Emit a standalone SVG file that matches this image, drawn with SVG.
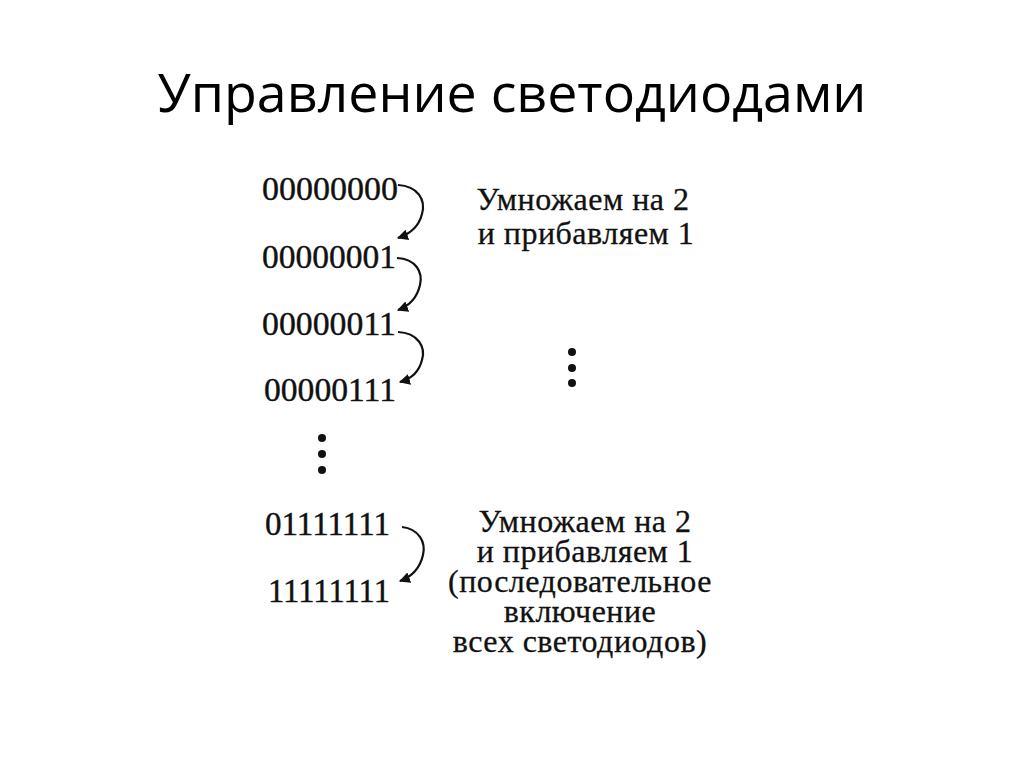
<svg xmlns="http://www.w3.org/2000/svg" width="1024" height="767" viewBox="0 0 1024 767">
<style>
.title{font-family:"Open Sans","Liberation Sans",sans-serif;font-size:53px;fill:#000}
.bin{font-family:"Liberation Serif",serif;font-size:34px;fill:#111;stroke:#111;stroke-width:0.4}
.lbl{font-family:"Liberation Serif",serif;font-size:32px;fill:#111;stroke:#111;stroke-width:0.3;text-anchor:middle;letter-spacing:0.5px}
.arr{fill:none;stroke:#111;stroke-width:2.2}
.dot{fill:#111}
</style>
<defs>
<marker id="ah" viewBox="0 0 10 10" refX="9" refY="5" markerWidth="5" markerHeight="5" orient="auto">
<path d="M0,0 L10,5 L0,10 z" fill="#111"/>
</marker>
</defs>
<rect width="1024" height="767" fill="#fff"/>
<text class="title" x="512" y="112" text-anchor="middle" textLength="709" lengthAdjust="spacingAndGlyphs">Управление светодиодами</text>

<g id="n0"><text class="bin" x="262" y="200" textLength="136" lengthAdjust="spacingAndGlyphs">00000000</text></g>
<g id="n1"><text class="bin" x="262" y="268" textLength="134" lengthAdjust="spacingAndGlyphs">00000001</text></g>
<g id="n2"><text class="bin" x="262" y="335" textLength="134" lengthAdjust="spacingAndGlyphs">00000011</text></g>
<g id="n3"><text class="bin" x="264" y="401" textLength="132" lengthAdjust="spacingAndGlyphs">00000111</text></g>
<g id="dotsL"><circle class="dot" cx="322" cy="438" r="4"/><circle class="dot" cx="322" cy="454" r="4"/><circle class="dot" cx="322" cy="470" r="4"/></g>
<g id="n4"><text class="bin" x="265" y="535" textLength="125" lengthAdjust="spacingAndGlyphs">01111111</text></g>
<g id="n5"><text class="bin" x="268" y="602" textLength="122" lengthAdjust="spacingAndGlyphs">11111111</text></g>

<g id="label1">
<text class="lbl" x="583" y="210">Умножаем на 2</text>
<text class="lbl" x="586" y="244">и прибавляем 1</text>
</g>
<g id="dotsR"><circle class="dot" cx="572" cy="352" r="4"/><circle class="dot" cx="572" cy="368" r="4"/><circle class="dot" cx="572" cy="383" r="4"/></g>
<g id="label2">
<text class="lbl" x="585" y="532">Умножаем на 2</text>
<text class="lbl" x="585" y="562">и прибавляем 1</text>
<text class="lbl" x="580" y="592">(последовательное</text>
<text class="lbl" x="580" y="622">включение</text>
<text class="lbl" x="580" y="652">всех светодиодов)</text>
</g>

<g id="connectors">
<path class="arr" marker-end="url(#ah)" d="M398,185 C418,186 426,200 422,214 C419,226 410,234 398,238"/>
<path class="arr" marker-end="url(#ah)" d="M397,258 C416,259 423,272 420,285 C417,298 409,306 398,310"/>
<path class="arr" marker-end="url(#ah)" d="M398,332 C418,333 426,347 422,360 C419,372 411,379 400,382"/>
<path class="arr" marker-end="url(#ah)" d="M402,527 C419,529 426,542 423,555 C420,568 411,577 400,581"/>
</g>
</svg>
